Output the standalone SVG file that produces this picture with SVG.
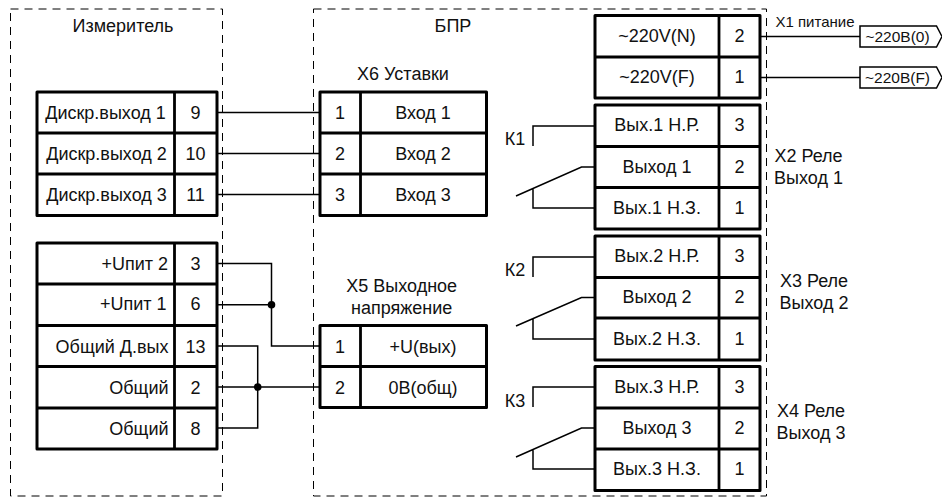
<svg xmlns="http://www.w3.org/2000/svg" width="942" height="497" viewBox="0 0 942 497">
<style>
text{font-family:"Liberation Sans",Arial,sans-serif;font-size:18px;fill:#111;text-anchor:middle}
.e{text-anchor:end}
.s{font-size:15px}
.t{font-size:15.500px}
.dash{fill:none;stroke:#000;stroke-width:1;stroke-dasharray:8 6}
.box{fill:#fff;stroke:#000;stroke-width:3;stroke-linejoin:round}
.sep{fill:none;stroke:#000;stroke-width:2.8}
.w{fill:none;stroke:#000;stroke-width:1.5}
.tag{fill:#fff;stroke:#000;stroke-width:1.5}
</style>
<rect width="942" height="497" fill="#fff"/>
<g id="izmeritel-frame"><rect class="dash" x="10.500" y="9" width="212" height="487"/><text x="123" y="32">Измеритель</text></g>
<g id="bpr-frame"><rect class="dash" x="313.500" y="9" width="453" height="487"/><text x="453" y="32">БПР</text></g>

<g id="connectors">
<path class="w" d="M217 112.500H320M217 153.500H320M217 194.500H320"/>
<path class="w" d="M217 263.500H271.500V346H320M217 304.700H271.500"/>
<path class="w" d="M217 346H257.700V428H217M217 387H320"/>
<circle cx="271.500" cy="304.700" r="3.800"/><circle cx="257.700" cy="387" r="3.800"/>
<path class="w" d="M760 36.500H860M760 77.500H860"/>
<path class="w" d="M595 126H533V146M595 167H581.500L516 196M533 188V208H595"/>
<path class="w" d="M595 257H533V277M595 297.500H581.500L516 326M533 318V339H595"/>
<path class="w" d="M595 387H533V407M595 428H581.500L516 457M533 449V469H595"/>
</g>

<g id="tag-n"><path class="tag" d="M860 26H936.500L942 36.500L936.500 47H860Z"/><text class="t" x="897.500" y="41.700">~220В(0)</text></g>
<g id="tag-f"><path class="tag" d="M860 67H936.500L942 77.500L936.500 88H860Z"/><text class="t" x="897.500" y="82.500">~220В(F)</text></g>

<g id="block-discrete">
<rect class="box" x="37" y="92" width="180" height="123.500"/>
<path class="sep" d="M37 133H217M37 174H217M174.500 92V215.500"/>
<text x="105.500" y="118.500">Дискр.выход 1</text><text x="195.500" y="118.500">9</text>
<text x="106.500" y="159.500">Дискр.выход 2</text><text x="195.500" y="159.500">10</text>
<text x="106.500" y="200.500">Дискр.выход 3</text><text x="195.500" y="200.500">11</text>
</g>
<g id="block-power">
<rect class="box" x="37" y="243" width="180" height="206"/>
<path class="sep" d="M37 284H217M37 325.500H217M37 366.500H217M37 408H217M174.500 243V449"/>
<text class="e" x="168" y="269.500">+Uпит 2</text><text x="195.500" y="269.500">3</text>
<text class="e" x="166.500" y="310">+Uпит 1</text><text x="195.500" y="310">6</text>
<text class="e" x="168.500" y="352.500">Общий Д.вых</text><text x="195.500" y="352.500">13</text>
<text class="e" x="168.500" y="393.500">Общий</text><text x="195.500" y="393.500">2</text>
<text class="e" x="168.500" y="434.500">Общий</text><text x="195.500" y="434.500">8</text>
</g>
<g id="block-x6">
<text x="403" y="80">Х6 Уставки</text>
<rect class="box" x="320" y="92" width="166.500" height="123.500"/>
<path class="sep" d="M320 133H486.500M320 174H486.500M360.500 92V215.500"/>
<text x="340" y="118.500">1</text><text x="423" y="118.500">Вход 1</text>
<text x="340" y="159.500">2</text><text x="423" y="159.500">Вход 2</text>
<text x="340" y="200.500">3</text><text x="423" y="200.500">Вход 3</text>
</g>
<g id="block-x5">
<text x="401.700" y="291.700">Х5 Выходное</text><text x="401.700" y="313.500">напряжение</text>
<rect class="box" x="320" y="325.500" width="166.500" height="82"/>
<path class="sep" d="M320 366.500H486.500M360.500 325.500V407.500"/>
<text x="340" y="352.500">1</text><text x="423" y="352.500">+U(вых)</text>
<text x="340" y="393.500">2</text><text x="423" y="393.500">0В(общ)</text>
</g>
<g id="block-x1">
<text class="s" x="815" y="26.700">Х1 питание</text>
<rect class="box" x="595" y="15.500" width="165" height="82.500"/>
<path class="sep" d="M595 57H760M719 15.500V98"/>
<text x="657" y="42">~220V(N)</text><text x="739.500" y="42">2</text>
<text x="657" y="83">~220V(F)</text><text x="739.500" y="83">1</text>
</g>
<g id="block-x2">
<rect class="box" x="595" y="105" width="165" height="124"/>
<path class="sep" d="M595 146.500H760M595 187.500H760M719 105V229"/>
<text x="657" y="131">Вых.1 Н.Р.</text><text x="739.500" y="131">3</text>
<text x="657" y="173">Выход 1</text><text x="739.500" y="173">2</text>
<text x="657" y="214">Вых.1 Н.З.</text><text x="739.500" y="214">1</text>
<text x="808.500" y="161.700">Х2 Реле</text><text x="808.500" y="183.500">Выход 1</text>
<text x="515" y="144.500">К1</text>
</g>
<g id="block-x3">
<rect class="box" x="595" y="236" width="165" height="124"/>
<path class="sep" d="M595 277.500H760M595 318H760M719 236V360"/>
<text x="657" y="261.700">Вых.2 Н.Р.</text><text x="739.500" y="261.700">3</text>
<text x="657" y="303">Выход 2</text><text x="739.500" y="303">2</text>
<text x="657" y="344.500">Вых.2 Н.З.</text><text x="739.500" y="344.500">1</text>
<text x="814" y="286.700">Х3 Реле</text><text x="814" y="308.500">Выход 2</text>
<text x="515" y="275.700">К2</text>
</g>
<g id="block-x4">
<rect class="box" x="595" y="366.500" width="165" height="124"/>
<path class="sep" d="M595 408H760M595 449H760M719 366.500V490.500"/>
<text x="657" y="392.500">Вых.3 Н.Р.</text><text x="739.500" y="392.500">3</text>
<text x="657" y="433.500">Выход 3</text><text x="739.500" y="433.500">2</text>
<text x="657" y="475">Вых.3 Н.З.</text><text x="739.500" y="475">1</text>
<text x="811" y="416.700">Х4 Реле</text><text x="811" y="438.500">Выход 3</text>
<text x="515" y="406.700">К3</text>
</g>
</svg>
